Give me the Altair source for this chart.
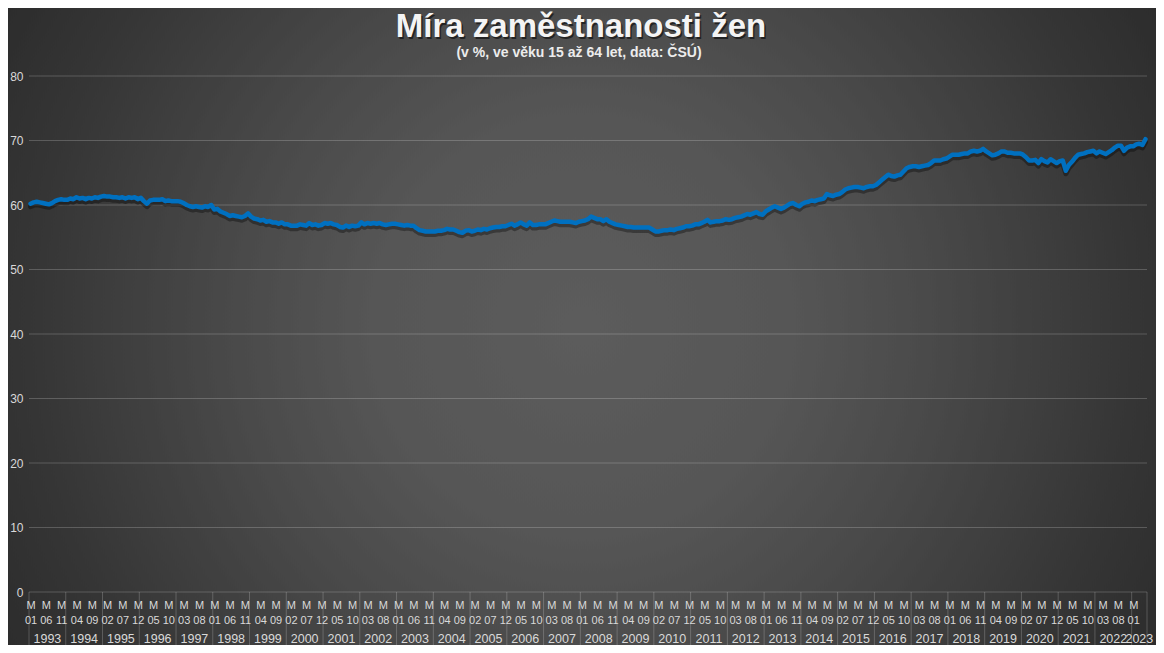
import json
import altair as alt
import pandas as pd

# ---------------- data ----------------
title_text = "Míra zaměstnanosti žen"
subtitle_text = "(v %, ve věku 15 až 64 let, data: ČSÚ)"

years = ["1993", "1994", "1995", "1996", "1997", "1998", "1999", "2000", "2001", "2002",
         "2003", "2004", "2005", "2006", "2007", "2008", "2009", "2010", "2011", "2012",
         "2013", "2014", "2015", "2016", "2017", "2018", "2019", "2020", "2021", "2022", "2023"]

month_codes = ["01", "02", "03", "04", "05", "06", "07", "08", "09", "10", "11", "12"]

y_ticks = [0, 10, 20, 30, 40, 50, 60, 70, 80]

# monthly employment rate of women (%), Jan 1993 - May 2023
rate = [
    60.2, 60.4, 60.5, 60.4, 60.3, 60.2, 60.1, 60.3, 60.6, 60.8, 60.9, 60.8,  # 1993
    60.8, 61.0, 60.9, 61.2, 61.0, 61.1, 60.9, 61.1, 61.0, 61.2, 61.1, 61.3,  # 1994
    61.4, 61.3, 61.3, 61.2, 61.2, 61.1, 61.2, 61.0, 61.2, 61.1, 61.2, 60.9,  # 1995
    61.1, 60.6, 60.2, 60.7, 60.8, 60.8, 60.8, 60.9, 60.6, 60.7, 60.6, 60.6,  # 1996
    60.6, 60.5, 60.3, 60.0, 59.8, 59.7, 59.8, 59.7, 59.6, 59.8, 59.7, 60.0,  # 1997
    59.3, 59.4, 59.0, 58.8, 58.6, 58.3, 58.4, 58.3, 58.2, 58.1, 58.3, 58.7,  # 1998
    58.2, 57.9, 57.8, 57.6, 57.7, 57.4, 57.5, 57.3, 57.3, 57.1, 57.3, 57.0,  # 1999
    57.0, 56.8, 56.8, 56.8, 57.0, 56.9, 56.8, 57.2, 56.9, 57.0, 56.8, 56.9,  # 2000
    57.2, 57.1, 57.2, 57.0, 56.9, 56.6, 56.5, 56.8, 56.6, 56.8, 56.7, 56.8,  # 2001
    57.3, 57.0, 57.2, 57.1, 57.2, 57.1, 57.2, 57.0, 56.9, 57.0, 57.1, 57.1,  # 2002
    57.0, 56.9, 56.8, 56.9, 56.8, 56.8, 56.4, 56.1, 56.0, 55.9, 55.9, 55.9,  # 2003
    55.9, 56.0, 56.0, 56.1, 56.3, 56.2, 56.2, 56.0, 55.8, 55.7, 56.0, 56.1,  # 2004
    55.9, 56.0, 56.2, 56.1, 56.3, 56.2, 56.4, 56.5, 56.6, 56.6, 56.7, 56.7,  # 2005
    56.9, 57.1, 56.8, 57.0, 57.3, 57.0, 56.8, 57.3, 56.9, 56.9, 57.0, 57.0,  # 2006
    57.0, 57.2, 57.4, 57.6, 57.5, 57.4, 57.4, 57.4, 57.4, 57.3, 57.2, 57.4,  # 2007
    57.5, 57.6, 57.8, 58.2, 58.0, 57.8, 57.8, 57.5, 57.8, 57.4, 57.2, 57.0,  # 2008
    56.9, 56.8, 56.7, 56.6, 56.6, 56.5, 56.5, 56.5, 56.5, 56.5, 56.5, 56.2,  # 2009
    55.9, 55.9, 56.0, 56.1, 56.1, 56.2, 56.1, 56.3, 56.4, 56.5, 56.7, 56.7,  # 2010
    56.8, 57.0, 57.0, 57.2, 57.4, 57.7, 57.3, 57.4, 57.5, 57.5, 57.6, 57.8,  # 2011
    57.7, 57.8, 58.0, 58.1, 58.2, 58.4, 58.6, 58.5, 58.7, 58.9, 58.6, 58.5,  # 2012
    59.0, 59.3, 59.6, 59.8, 59.6, 59.4, 59.6, 59.9, 60.2, 60.3, 60.0, 59.8,  # 2013
    60.2, 60.4, 60.5, 60.7, 60.6, 60.8, 60.9, 61.0, 61.7, 61.5, 61.4, 61.6,  # 2014
    61.7, 62.0, 62.4, 62.6, 62.7, 62.8, 62.8, 62.7, 62.6, 62.8, 62.9, 62.9,  # 2015
    63.1, 63.5, 63.9, 64.3, 64.7, 64.5, 64.4, 64.6, 64.7, 65.2, 65.7, 65.9,  # 2016
    66.0, 66.0, 65.9, 66.0, 66.1, 66.2, 66.5, 66.9, 66.9, 66.9, 67.1, 67.2,  # 2017
    67.5, 67.8, 67.8, 67.8, 67.9, 68.0, 68.0, 68.3, 68.4, 68.3, 68.4, 68.7,  # 2018
    68.3, 68.0, 67.7, 67.8, 68.0, 68.3, 68.3, 68.1, 68.1, 68.0, 68.0, 68.0,  # 2019
    67.8, 67.4, 66.9, 66.9, 67.0, 66.5, 67.1, 66.8, 66.6, 67.1, 66.8, 66.5,  # 2020
    66.8, 66.9, 65.3, 66.2, 66.7, 67.3, 67.8, 67.9, 68.0, 68.2, 68.3, 68.4,  # 2021
    68.0, 68.3, 68.1, 67.9, 68.2, 68.5, 68.9, 69.2, 69.2, 68.4, 68.9, 69.1,  # 2022
    69.1, 69.4, 69.5, 69.3, 70.2,                                              # 2023
]

# ---------------- tables ----------------
n = len(rate)
df = pd.DataFrame({"t": [i + 0.5 for i in range(n)], "rate": rate})

year_start = [12 * i for i in range(len(years))]
year_len = [min(12, n - s) for s in year_start]
df_years = pd.DataFrame({
    "year": years,
    "mid": [s + l / 2 for s, l in zip(year_start, year_len)],
})
df_bounds = pd.DataFrame({"b": year_start + [n]})
df_grid = pd.DataFrame({"v": y_ticks})

tick_vals = [i + 0.5 for i in range(0, n, 5)]
label_expr = "['M', " + json.dumps(month_codes) + "[floor(datum.value) % 12]]"

# ---------------- layout ----------------
W, H = 1118, 516
PAD = {"left": 21, "top": 68, "right": 9, "bottom": 53}
FONT = "Liberation Sans"
LABEL = "#d9d9d9"

xs = alt.Scale(domain=[0, n], nice=False, zero=False)
ys = alt.Scale(domain=[0, 80], nice=False)

x_axis = alt.Axis(
    values=tick_vals, labelExpr=label_expr, labelFont=FONT, labelFontSize=11,
    labelColor=LABEL, labelLineHeight=15, labelPadding=7, labelAngle=0,
    ticks=False, domain=False, grid=False, labelOverlap=False,
    labelFlush=False, title=None, zindex=1,
)
y_axis = alt.Axis(
    values=y_ticks, labelFont=FONT, labelFontSize=12, labelColor=LABEL,
    ticks=False, domain=False, grid=False, labelPadding=6, title=None, zindex=1,
)

gradient = {
    "gradient": "radial",
    "x1": 0.5, "y1": 0.5, "r1": 0,
    "x2": 0.5, "y2": 0.5, "r2": 0.6,
    "stops": [
        {"offset": 0.0, "color": "#5c5c5c"},
        {"offset": 0.3, "color": "#565656"},
        {"offset": 0.5, "color": "#4a4a4a"},
        {"offset": 0.8, "color": "#353535"},
        {"offset": 1.0, "color": "#2a2a2a"},
    ],
}

total_w = W + PAD["left"] + PAD["right"]
cy = (H + PAD["top"] + PAD["bottom"]) / 2 - PAD["top"]

line = alt.Chart(df).mark_line(
    color="#0070C0", strokeWidth=4.5, strokeCap="round", strokeJoin="round",
).encode(
    x=alt.X("t:Q", scale=xs, axis=x_axis),
    y=alt.Y("rate:Q", scale=ys, axis=y_axis),
)

shadow = alt.Chart(df).mark_line(
    color="#000000", opacity=0.35, strokeWidth=5, yOffset=3,
    strokeCap="round", strokeJoin="round",
).encode(
    x=alt.X("t:Q", scale=xs, axis=x_axis),
    y=alt.Y("rate:Q", scale=ys, axis=y_axis),
)

bg = alt.Chart(pd.DataFrame({"k": [0]})).mark_rect(fill=gradient).encode(
    x=alt.value(-PAD["left"]),
    x2=alt.value(W + PAD["right"]),
    y=alt.value(cy - total_w / 2),
    y2=alt.value(cy + total_w / 2),
)

grid = alt.Chart(df_grid).mark_rule(color="#ffffff", opacity=0.2, strokeWidth=1).encode(
    y=alt.Y("v:Q", scale=ys, axis=y_axis),
    x=alt.value(0),
    x2=alt.value(W),
)

bounds = alt.Chart(df_bounds).mark_rule(color="#ffffff", opacity=0.2, strokeWidth=1).encode(
    x=alt.X("b:Q", scale=xs, axis=x_axis),
    y=alt.value(H),
    y2=alt.value(H + 62),
)

year_text = alt.Chart(df_years).mark_text(
    font=FONT, fontSize=12.5, color=LABEL, baseline="middle", align="center"
).encode(
    x=alt.X("mid:Q", scale=xs, axis=x_axis),
    y=alt.value(H + 47),
    text="year:N",
)

tdf = pd.DataFrame({"title": [title_text], "sub": [subtitle_text]})
title_shadow = alt.Chart(tdf).mark_text(
    font=FONT, fontSize=33, fontWeight="bold", color="#000000", opacity=0.55,
    align="center", baseline="alphabetic", dx=1.5, dy=2,
).encode(x=alt.value(552), y=alt.value(-39), text="title:N")
title = alt.Chart(tdf).mark_text(
    font=FONT, fontSize=33, fontWeight="bold", color="#f4f4f4",
    align="center", baseline="alphabetic",
).encode(x=alt.value(552), y=alt.value(-39), text="title:N")
subtitle = alt.Chart(tdf).mark_text(
    font=FONT, fontSize=14, fontWeight="bold", color="#ececec",
    align="center", baseline="alphabetic",
).encode(x=alt.value(550), y=alt.value(-19), text="sub:N")

chart = alt.layer(
    bg, grid, bounds, year_text, shadow, line, title_shadow, title, subtitle
).properties(
    width=W, height=H, padding=PAD, autosize=alt.AutoSizeParams(type="none"),
    background="#333333",
).configure_view(stroke=None)

chart.save("out.html", embed_options={"renderer": "svg", "actions": False})
